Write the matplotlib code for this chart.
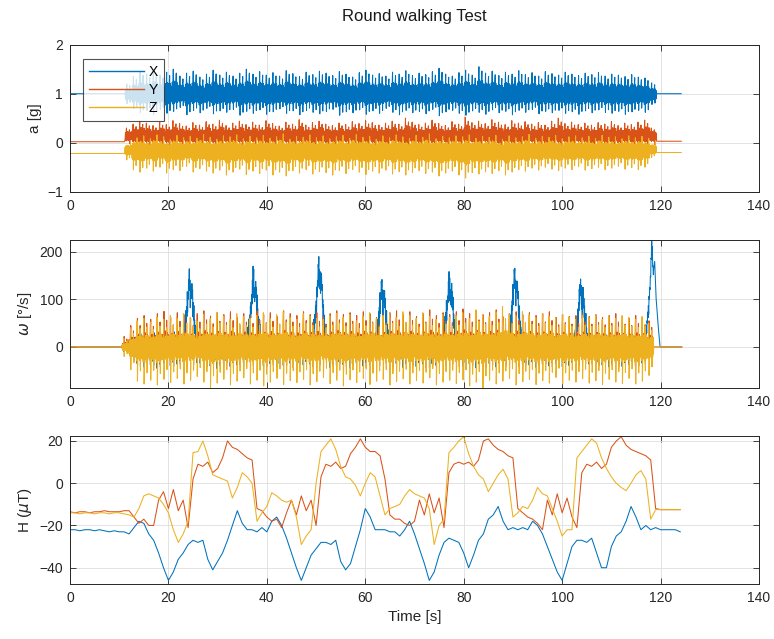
import numpy as np
import matplotlib
matplotlib.use("Agg")
import matplotlib.pyplot as plt

plt.rcParams['font.family'] = ['Liberation Sans', 'DejaVu Sans']
plt.rcParams['mathtext.fontset'] = 'dejavusans'

# ---------------------------------------------------------------- colours
C_X, C_Y, C_Z = '#0072BD', '#D95319', '#EDB120'
AXCOL = '#262626'
GRIDCOL = '#dedede'

# ---------------------------------------------------------------- labels
title = 'Round walking Test'
axis_labels = ['X', 'Y', 'Z']
x_ticks = [0, 20, 40, 60, 80, 100, 120, 140]

# ---------------------------------------------------------------- stride timing
acc_t0, gyr_t0, stride = 11.2, 10.6, 1.35
t_end = 124.3

# ---------------------------------------------------------------- accelerometer [g]
acc_pre = [1.0, 0.02, -0.22]
acc_post = [1.0, 0.03, -0.20]
acc_center = [0.97, 0.12, -0.13]

ax_hi = [1.20, 1.35, 1.45, 1.40, 1.48, 1.38, 1.44, 1.50, 1.36, 1.42,
         1.46, 1.34, 1.40, 1.48, 1.38, 1.44, 1.36, 1.42, 1.50, 1.40,
         1.45, 1.38, 1.43, 1.36, 1.47, 1.41, 1.35, 1.44, 1.39, 1.46,
         1.42, 1.37, 1.45, 1.40, 1.34, 1.43, 1.48, 1.38, 1.41, 1.36,
         1.44, 1.40, 1.47, 1.37, 1.42, 1.39, 1.45, 1.52, 1.40, 1.36,
         1.43, 1.48, 1.38, 1.55, 1.42, 1.46, 1.37, 1.44, 1.40, 1.47,
         1.39, 1.43, 1.36, 1.45, 1.41, 1.38, 1.44, 1.40, 1.37, 1.42,
         1.39, 1.43, 1.36, 1.40, 1.38, 1.35, 1.39, 1.34, 1.32, 1.22]
ax_lo = [0.80, 0.70, 0.62, 0.66, 0.58, 0.68, 0.60, 0.64, 0.72, 0.57,
         0.66, 0.61, 0.70, 0.59, 0.65, 0.62, 0.68, 0.56, 0.64, 0.60,
         0.67, 0.58, 0.63, 0.69, 0.60, 0.65, 0.57, 0.66, 0.62, 0.59,
         0.64, 0.68, 0.56, 0.63, 0.61, 0.67, 0.58, 0.65, 0.60, 0.70,
         0.62, 0.57, 0.66, 0.61, 0.64, 0.59, 0.68, 0.55, 0.63, 0.66,
         0.60, 0.56, 0.65, 0.62, 0.58, 0.67, 0.61, 0.64, 0.57, 0.66,
         0.62, 0.68, 0.59, 0.64, 0.61, 0.66, 0.60, 0.63, 0.58, 0.65,
         0.61, 0.67, 0.62, 0.60, 0.64, 0.58, 0.63, 0.66, 0.62, 0.78]
ay_hi = [0.30, 0.38, 0.44, 0.40, 0.35, 0.42, 0.37, 0.45, 0.39, 0.34,
         0.41, 0.36, 0.43, 0.38, 0.46, 0.35, 0.40, 0.44, 0.37, 0.42,
         0.36, 0.45, 0.39, 0.34, 0.42, 0.38, 0.47, 0.36, 0.41, 0.44,
         0.38, 0.35, 0.40, 0.37, 0.43, 0.39, 0.45, 0.41, 0.36, 0.40,
         0.44, 0.38, 0.50, 0.42, 0.37, 0.40, 0.46, 0.39, 0.35, 0.43,
         0.38, 0.52, 0.41, 0.44, 0.39, 0.47, 0.42, 0.37, 0.45, 0.40,
         0.43, 0.38, 0.41, 0.36, 0.44, 0.50, 0.39, 0.42, 0.37, 0.40,
         0.36, 0.41, 0.38, 0.43, 0.35, 0.40, 0.37, 0.42, 0.46, 0.30]
ay_lo = [-0.02, -0.06, -0.09, -0.07, -0.10, -0.05, -0.08, -0.11, -0.06, -0.09,
         -0.07, -0.10, -0.05, -0.08, -0.12, -0.06, -0.09, -0.07, -0.10, -0.05,
         -0.08, -0.11, -0.06, -0.09, -0.07, -0.10, -0.05, -0.08, -0.12, -0.06,
         -0.09, -0.07, -0.10, -0.05, -0.08, -0.11, -0.06, -0.09, -0.07, -0.10,
         -0.05, -0.08, -0.12, -0.06, -0.09, -0.07, -0.10, -0.05, -0.08, -0.11,
         -0.06, -0.09, -0.07, -0.10, -0.05, -0.08, -0.12, -0.06, -0.09, -0.07,
         -0.10, -0.05, -0.08, -0.11, -0.06, -0.09, -0.07, -0.10, -0.05, -0.08,
         -0.12, -0.06, -0.09, -0.07, -0.10, -0.05, -0.08, -0.11, -0.06, -0.04]
az_hi = [0.00, 0.10, 0.14, 0.08, 0.16, 0.12, 0.06, 0.15, 0.10, 0.13,
         0.09, 0.17, 0.11, 0.07, 0.14, 0.12, 0.16, 0.08, 0.13, 0.10,
         0.15, 0.09, 0.12, 0.18, 0.07, 0.13, 0.11, 0.16, 0.10, 0.14,
         0.08, 0.12, 0.15, 0.09, 0.17, 0.11, 0.13, 0.07, 0.14, 0.10,
         0.16, 0.12, 0.09, 0.15, 0.11, 0.18, 0.08, 0.13, 0.10, 0.14,
         0.12, 0.16, 0.09, 0.13, 0.11, 0.15, 0.07, 0.14, 0.10, 0.12,
         0.17, 0.09, 0.13, 0.11, 0.15, 0.08, 0.12, 0.14, 0.10, 0.13,
         0.09, 0.15, 0.11, 0.12, 0.08, 0.14, 0.10, 0.13, 0.09, 0.02]
az_lo = [-0.35, -0.55, -0.60, -0.52, -0.58, -0.50, -0.62, -0.55, -0.57, -0.48,
         -0.60, -0.53, -0.58, -0.62, -0.56, -0.66, -0.60, -0.54, -0.65, -0.58,
         -0.63, -0.56, -0.66, -0.60, -0.68, -0.57, -0.62, -0.55, -0.64, -0.59,
         -0.61, -0.66, -0.57, -0.63, -0.55, -0.60, -0.65, -0.58, -0.62, -0.56,
         -0.64, -0.59, -0.66, -0.61, -0.57, -0.63, -0.60, -0.68, -0.62, -0.58,
         -0.66, -0.72, -0.61, -0.64, -0.59, -0.63, -0.57, -0.66, -0.60, -0.55,
         -0.58, -0.52, -0.56, -0.50, -0.54, -0.57, -0.52, -0.55, -0.49, -0.56,
         -0.53, -0.50, -0.55, -0.52, -0.48, -0.54, -0.51, -0.55, -0.50, -0.30]

# in-stride shape of each acceleration axis (+1 -> peak, -1 -> trough)
acc_shape_x = [0.20, -0.40, 0.50, -0.55, 0.45, 1.00, -1.00, 0.55, -0.50, 0.40,
               -0.45, 0.50, -0.40, 0.55, 0.85, -0.85, 0.50, -0.45, 0.40, -0.35]
acc_shape_y = [-0.30, 0.45, -0.50, 0.50, 1.00, -0.60, 0.55, -0.40, 0.60, -0.45,
               0.45, -0.55, 0.55, 0.80, -1.00, 0.50, -0.40, 0.55, -0.35, 0.35]
acc_shape_z = [0.30, -0.45, 0.50, -0.50, 0.40, -1.00, 0.60, -0.55, 0.45, -0.40,
               0.55, -0.50, 0.40, -0.80, 0.35, -0.45, 1.00, -0.50, 0.40, -0.35]

# ---------------------------------------------------------------- gyroscope [deg/s]
gx_hi = [10, 20, 28, 24, 30, 22, 26, 32, 25, 28,
         24, 30, 27, 22, 29, 25, 31, 23, 27, 26,
         30, 24, 28, 22, 26, 31, 25, 29, 23, 27,
         25, 30, 24, 28, 22, 27, 31, 25, 29, 24,
         28, 23, 30, 26, 24, 29, 25, 27, 31, 24,
         26, 30, 23, 28, 25, 29, 24, 27, 30, 22,
         27, 25, 29, 23, 28, 26, 24, 30, 25, 27,
         23, 28, 26, 24, 29, 25, 27, 23, 26, 15]
gx_lo = [-10, -25, -35, -42, -38, -45, -33, -40, -36, -44,
         -38, -42, -34, -40, -45, -36, -41, -38, -33, -43,
         -37, -40, -35, -44, -39, -34, -42, -38, -36, -41,
         -35, -43, -39, -37, -44, -34, -40, -38, -42, -36,
         -40, -35, -43, -38, -41, -36, -44, -39, -34, -42,
         -38, -41, -36, -44, -39, -35, -42, -37, -40, -34,
         -41, -38, -43, -36, -40, -35, -42, -39, -37, -44,
         -36, -40, -38, -42, -35, -41, -37, -39, -34, -20]
gy_hi = [22, 45, 60, 66, 58, 70, 75, 62, 72, 68,
         60, 70, 76, 65, 72, 68, 74, 62, 70, 66,
         75, 68, 72, 64, 76, 70, 66, 74, 68, 72,
         64, 70, 76, 68, 72, 66, 74, 70, 62, 68,
         72, 76, 68, 74, 64, 70, 78, 66, 72, 68,
         74, 80, 70, 76, 68, 72, 78, 64, 70, 74,
         68, 72, 66, 70, 74, 62, 68, 64, 66, 70,
         64, 68, 62, 66, 70, 64, 60, 66, 62, 55]
gy_lo = [-10, -30, -40, -30, -38, -42, -33, -40, -36, -44,
         -38, -30, -42, -36, -40, -34, -44, -38, -32, -40,
         -36, -42, -38, -34, -40, -44, -36, -32, -42, -38,
         -34, -40, -36, -42, -38, -30, -44, -36, -40, -34,
         -42, -38, -32, -40, -36, -44, -38, -34, -40, -36,
         -42, -36, -40, -34, -44, -38, -32, -40, -36, -42,
         -38, -34, -40, -36, -42, -30, -38, -34, -40, -36,
         -36, -40, -34, -38, -42, -36, -32, -40, -36, -30]
gz_hi = [18, 40, 55, 60, 52, 63, 58, 66, 60, 70,
         62, 55, 68, 60, 72, 65, 58, 70, 64, 60,
         66, 72, 60, 68, 74, 62, 58, 70, 65, 60,
         58, 66, 70, 62, 68, 55, 64, 72, 60, 66,
         70, 62, 74, 66, 60, 72, 64, 58, 68, 62,
         66, 72, 60, 78, 68, 64, 74, 85, 70, 66,
         74, 68, 62, 70, 65, 60, 68, 63, 58, 66,
         62, 66, 58, 64, 60, 66, 62, 58, 64, 50]
gz_lo = [-20, -48, -72, -78, -70, -80, -68, -75, -66, -78,
         -70, -62, -74, -87, -76, -68, -80, -72, -65, -78,
         -70, -82, -74, -66, -79, -71, -75, -68, -80, -73,
         -64, -77, -70, -82, -69, -75, -66, -79, -72, -68,
         -80, -73, -67, -78, -71, -76, -65, -80, -74, -70,
         -77, -69, -82, -74, -87, -70, -78, -72, -66, -80,
         -73, -68, -79, -71, -76, -64, -78, -70, -74, -67,
         -76, -71, -79, -68, -74, -77, -66, -78, -72, -60]

gyr_shape_x = [0.30, -0.40, 0.50, -0.60, 0.40, -1.00, 0.70, -0.30, 0.45, -0.50,
               0.35, -0.45, 0.60, -0.80, 0.50, -0.35, 1.00, -0.55, 0.30, -0.40]
gyr_shape_y = [-0.20, 0.35, -0.45, 0.30, -0.40, 0.60, 1.00, -0.60, 0.35, -0.30,
               0.45, -0.50, 0.30, -0.35, 0.75, -1.00, 0.40, -0.30, 0.35, -0.20]
gyr_shape_z = [0.10, -0.30, 0.35, -0.40, 0.45, 1.00, -1.00, -0.45, 0.30, -0.35,
               0.40, -0.30, 0.35, -0.40, 0.70, -0.70, 0.30, -0.35, 0.40, -0.25]

# yaw-rate peaks at the turns
turn_time = [24.2, 37.2, 50.5, 63.3, 77.0, 90.3, 103.7, 118.2]
turn_peak = [158, 158, 185, 142, 152, 169, 142, 225]
turn_dt = [-1.4, -0.9, -0.5, -0.2, 0.0, 0.3, 0.6, 0.9, 1.3, 1.7]
turn_shape = [0.0, 0.25, 0.45, 0.70, 1.0, 0.70, 0.80, 0.45, 0.20, 0.0]

# ---------------------------------------------------------------- magnetometer [uT], 1 s steps
mag_t = list(range(125))
hx = [-22, -22, -22.5, -22, -22, -22.5, -22, -22.5, -23, -22.5,
      -23, -23, -24, -21, -18, -19, -24, -27, -33, -40,
      -46, -42, -36, -33, -29, -27, -28, -27, -36, -41,
      -37, -33, -27, -20, -13, -19, -22, -22, -23, -21,
      -23, -18, -16, -20, -26, -33, -40, -46, -40, -34,
      -31, -28, -28, -29, -27, -37, -41, -38, -30, -22,
      -12, -16, -22, -22, -22, -23, -23, -25, -22, -18,
      -24, -31, -38, -46, -42, -34, -28, -26, -27, -28,
      -33, -40, -34, -27, -24, -17, -15, -11, -18, -22,
      -21, -22, -21, -22, -18, -20, -24, -30, -36, -42,
      -46, -38, -30, -27, -27, -28, -26, -33, -40, -40,
      -30, -25, -23, -18, -11, -16, -22, -20, -22, -21,
      -22, -22, -22, -22, -23]
hy = [-13.5, -14, -13.5, -13.5, -14, -13.5, -13.5, -13, -13.5, -13.5,
      -13.5, -13, -13, -16, -19, -17, -20, -20, -8, -4,
      -12, -3, -13, -8, -21, 2, 9, 8, 10, 5,
      7, 12, 20, 17, 16, 14, 12, 11, -12, -13,
      -16, -18, -17, -21, -14, -8, -15, -6, -13, -8,
      -20, 3, 9, 8, 10, 7, 8, 14, 17, 21,
      17, 15, 15, 13, 2, -15, -17, -17, -19, -20,
      -18, -8, -15, -5, -14, -7, -21, 5, 9, 10,
      9, 10, 8, 11, 20, 21, 18, 16, 15, 13,
      12, -12, -14, -16, -17, -19, -22, -8, -15, -5,
      -14, -7, -16, -21, 5, 9, 8, 10, 7, 9,
      17, 20, 22, 18, 16, 15, 14, 13, 11, -12,
      -12.5, -12.5, -12.5, -12.5, -12.5]
hz = [-14, -14, -14.5, -14, -14, -14.5, -14, -14, -14.5, -14,
      -14, -14.5, -15, -16, -12, -6, -5, -6, -7, -10,
      -14, -22, -28, -24, -18, 14.5, 15, 20, 13, 4,
      3, 2, 1, -7, -2, 5, 3, 0, -18, -14,
      -11, -4.5, -6, -8, -9, -8, -16, -29, -25, -22,
      0, 15, 18, 21, 16, 8, 3, 2, -1, -6,
      0, 5, 3, -6, -15, -12, -11, -10, -6, -3,
      -5, -6, -7, -12, -29, -20, -17, 14.5, 17, 20,
      22, 14, 8, 4, 2, -4, 0, 4, 6.6, 2,
      -16, -14, -11, -12, -8, -2, -5, -6, -12, -18,
      -25, -22, -22, 12, 15, 18, 21, 19, 12, 7,
      3, 0, -2, -3.5, 0, 4, 6, 2, -17, -12.5,
      -12.5, -12.5, -12.5, -12.5, -12.5]


def walking(t0, shape, hi, lo, center):
    """Stride-by-stride signal: each stride follows `shape`, scaled to that stride's peak/trough."""
    shape = np.asarray(shape, float)
    hi = np.asarray(hi, float)[:, None]
    lo = np.asarray(lo, float)[:, None]
    n = len(shape)
    k = np.arange(hi.shape[0])[:, None]
    j = np.arange(n)[None, :]
    t = t0 + stride * (k + j / n)
    v = np.where(shape > 0, center + shape * (hi - center), center + shape * (center - lo))
    return t.ravel(), v.ravel()


def full_trace(t0, shape, hi, lo, center, pre, post):
    tw, vw = walking(t0, shape, hi, lo, center)
    t_pre = np.arange(0.0, t0, 0.1)
    t_post = np.arange(tw[-1] + stride / len(shape), t_end, 0.1)
    t = np.concatenate([t_pre, tw, t_post])
    v = np.concatenate([np.full(t_pre.size, pre), vw, np.full(t_post.size, post)])
    return t, v


acc = [
    full_trace(acc_t0, acc_shape_x, ax_hi, ax_lo, acc_center[0], acc_pre[0], acc_post[0]),
    full_trace(acc_t0, acc_shape_y, ay_hi, ay_lo, acc_center[1], acc_pre[1], acc_post[1]),
    full_trace(acc_t0, acc_shape_z, az_hi, az_lo, acc_center[2], acc_pre[2], acc_post[2]),
]
gyr = [
    full_trace(gyr_t0, gyr_shape_x, gx_hi, gx_lo, 0.0, 0.0, 0.0),
    full_trace(gyr_t0, gyr_shape_y, gy_hi, gy_lo, 0.0, 0.0, 0.0),
    full_trace(gyr_t0, gyr_shape_z, gz_hi, gz_lo, 0.0, 0.0, 0.0),
]
# add the yaw-rate bumps of the turns to the X axis
tg, vg = gyr[0]
for tc, pk in zip(turn_time, turn_peak):
    vg = vg + pk * np.interp(tg - tc, turn_dt, turn_shape, left=0.0, right=0.0)
gyr[0] = (tg, vg)

mag = [(np.array(mag_t, float), np.array(hx)),
       (np.array(mag_t, float), np.array(hy)),
       (np.array(mag_t, float), np.array(hz))]

# ---------------------------------------------------------------- figure
W, H = 774, 639
fig = plt.figure(figsize=(W / 100, H / 100), dpi=100)
boxes = [(70, 44.7, 759, 191.7), (70, 240, 759, 388.3), (70, 435.7, 759, 584)]
axes = []
for (x0, y0, x1, y1) in boxes:
    axes.append(fig.add_axes([x0 / W, 1 - y1 / H, (x1 - x0) / W, (y1 - y0) / H]))

colors = [C_X, C_Y, C_Z]
for ax, data in zip(axes, [acc, gyr, mag]):
    for (t, v), c, lab in zip(data, colors, axis_labels):
        ax.plot(t, v, color=c, lw=0.75, label=lab)

axes[0].set_ylim(-1, 2)
axes[0].set_yticks([-1, 0, 1, 2])
axes[0].set_ylabel('a [g]', fontsize=11, color=AXCOL)
axes[1].set_ylim(-87, 225)
axes[1].set_yticks([0, 100, 200])
axes[1].set_ylabel(r'$\omega$ [°/s]', fontsize=11, color=AXCOL)
axes[2].set_ylim(-47.7, 22.5)
axes[2].set_yticks([-40, -20, 0, 20])
axes[2].set_ylabel(r'H ($\mu$T)', fontsize=11, color=AXCOL)
axes[2].set_xlabel('Time [s]', fontsize=11, color=AXCOL)

for ax in axes:
    ax.set_xlim(0, 140)
    ax.set_xticks(x_ticks)
    ax.grid(True, color=GRIDCOL, lw=0.6)
    ax.set_axisbelow(True)
    ax.tick_params(direction='in', length=4, width=0.6, top=True, right=True,
                   colors=AXCOL, labelsize=10, pad=5)
    for s in ax.spines.values():
        s.set_color(AXCOL)
        s.set_linewidth(0.7)

leg = axes[0].legend(loc='upper left', bbox_to_anchor=(0.019, 0.905), fontsize=10,
                     handlelength=3.9, frameon=True, fancybox=False, borderpad=0.45,
                     labelspacing=0.3, handletextpad=0.35, borderaxespad=0)
leg.get_frame().set_edgecolor('#262626')
leg.get_frame().set_linewidth(0.8)
for line in leg.get_lines():
    line.set_linewidth(1.0)

fig.text(414.5 / W, 1 - 17 / H, title, ha='center', va='center', fontsize=12, color='#1a1a1a')

fig.savefig('out.png', dpi=100)
